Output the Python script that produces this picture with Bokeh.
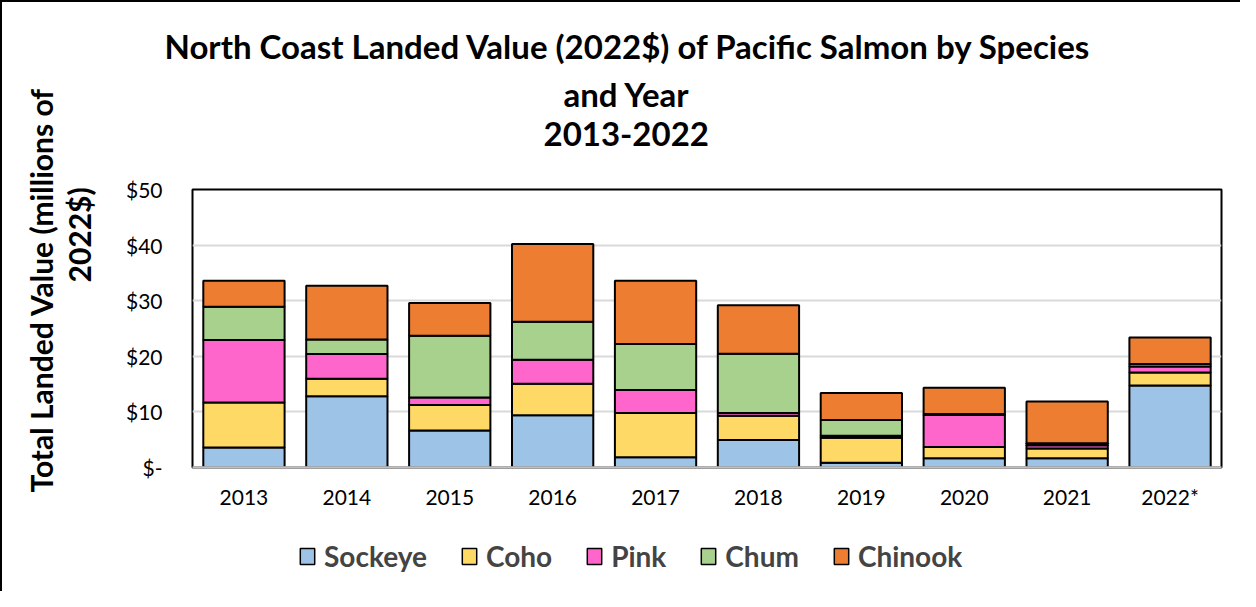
from bokeh.plotting import figure
from bokeh.layouts import column
from bokeh.models import (ColumnDataSource, FixedTicker, Legend, LegendItem, Span, Title,
                          FactorRange)
from bokeh.embed import file_html
from bokeh.resources import INLINE

years = ["2013", "2014", "2015", "2016", "2017", "2018", "2019", "2020", "2021", "2022*"]
species = ["Sockeye", "Coho", "Pink", "Chum", "Chinook"]
sockeye = [3.6, 12.8, 6.65, 9.4, 1.85, 4.95, 0.85, 1.65, 1.65, 14.75]
coho = [8.1, 3.15, 4.6, 5.65, 7.95, 4.35, 4.5, 2.05, 1.75, 2.35]
pink = [11.25, 4.45, 1.35, 4.35, 4.15, 0.5, 0.35, 5.75, 0.6, 1.05]
chum = [5.95, 2.6, 11.1, 6.8, 8.25, 10.65, 2.85, 0.15, 0.35, 0.45]
chinook = [4.7, 9.7, 5.9, 14.0, 11.4, 8.75, 4.85, 4.75, 7.5, 4.8]
colors = ["#9DC3E6", "#FFD966", "#FF66CC", "#A9D18E", "#ED7D31"]
y_ticks = [0, 10, 20, 30, 40, 50]
y_tick_labels = ["$-", "$10", "$20", "$30", "$40", "$50"]

title_lines = ["North Coast Landed Value (2022$) of Pacific Salmon by Species",
               "and Year", "2013-2022"]
ylabel_lines = ["Total Landed Value (millions of", "2022$)"]

FONT = "Lato"
W = 1238
H_MAIN, H_LEG = 518, 71

source = ColumnDataSource(dict(year=years, Sockeye=sockeye, Coho=coho,
                               Pink=pink, Chum=chum, Chinook=chinook))

# ---- main chart ----
p = figure(x_range=years, y_range=(0, 50), width=W, height=H_MAIN,
           output_backend="svg", toolbar_location=None,
           min_border_left=190, min_border_right=19,
           min_border_top=187, min_border_bottom=53)

renderers = p.vbar_stack(species, x="year", width=0.79, color=colors,
                         line_color="black", line_width=2, source=source)

p.outline_line_color = "black"
p.outline_line_width = 2
p.xgrid.grid_line_color = None
p.ygrid.grid_line_color = "#d9d9d9"
p.ygrid.grid_line_width = 2

# title: spacer nearest the frame, then lines bottom-up
p.add_layout(Title(text=" ", text_font_size="20px", standoff=17), "above")
title_offsets = [-28, 371, 351]
for txt, off in reversed(list(zip(title_lines, title_offsets))):
    p.add_layout(Title(text=txt, align="left", offset=off, standoff=6,
                       vertical_align="bottom",
                       text_font=FONT, text_font_style="bold", text_font_size="33px",
                       text_color="black"), "above")

# y axis label as two vertical title lines: spacer nearest the axis, then lines
p.add_layout(Title(text=" ", text_font_size="20px", standoff=2), "left")
ylabel_offsets = [-25, 185]
for txt, off in reversed(list(zip(ylabel_lines, ylabel_offsets))):
    p.add_layout(Title(text=txt, align="left", offset=off, standoff=0,
                       vertical_align="bottom",
                       text_font=FONT, text_font_style="bold", text_font_size="30px",
                       text_color="black"), "left")

p.yaxis.ticker = FixedTicker(ticks=y_ticks)
p.yaxis.major_label_overrides = {t: l for t, l in zip(y_ticks, y_tick_labels)}
p.yaxis.axis_line_color = None
p.yaxis.major_tick_line_color = None
p.yaxis.minor_tick_line_color = None
p.yaxis.major_label_standoff = 24
p.yaxis.major_label_text_font = FONT
p.yaxis.major_label_text_font_size = "21px"
p.yaxis.major_label_text_color = "black"

p.xaxis.axis_line_color = "#bfbfbf"
p.xaxis.axis_line_width = 2
p.xaxis.major_tick_line_color = None
p.xaxis.major_label_standoff = 10
p.xaxis.major_label_text_font = FONT
p.xaxis.major_label_text_font_size = "21px"
p.xaxis.major_label_text_color = "black"

p.add_layout(Span(location=0, dimension="width", line_color="#bfbfbf", line_width=2))

# ---- legend strip (renderers mapped off-range so only the legend shows) ----
lf = figure(x_range=FactorRange(factors=["legend"]), y_range=(0, 1), width=W, height=H_LEG,
            output_backend="svg", toolbar_location=None, min_border=0)
lf.axis.visible = False
lf.grid.grid_line_color = None
lf.outline_line_color = None
leg_renderers = lf.vbar_stack(species, x="year", width=0.79, color=colors,
                              line_color="black", line_width=1.5, source=source)

legend = Legend(items=[LegendItem(label=s, renderers=[r]) for s, r in zip(species, leg_renderers)],
                orientation="horizontal", location=(106, 18),
                glyph_width=18, glyph_height=20, label_standoff=8, spacing=33,
                label_text_font=FONT, label_text_font_style="bold",
                label_text_font_size="28px", padding=0, margin=0,
                border_line_color=None, background_fill_alpha=0)
lf.add_layout(legend, "center")

layout = column(p, lf, spacing=0)
layout.styles = {"border-left": "2px solid black", "border-top": "2px solid black"}

open("out.html", "w").write(file_html(layout, INLINE))
